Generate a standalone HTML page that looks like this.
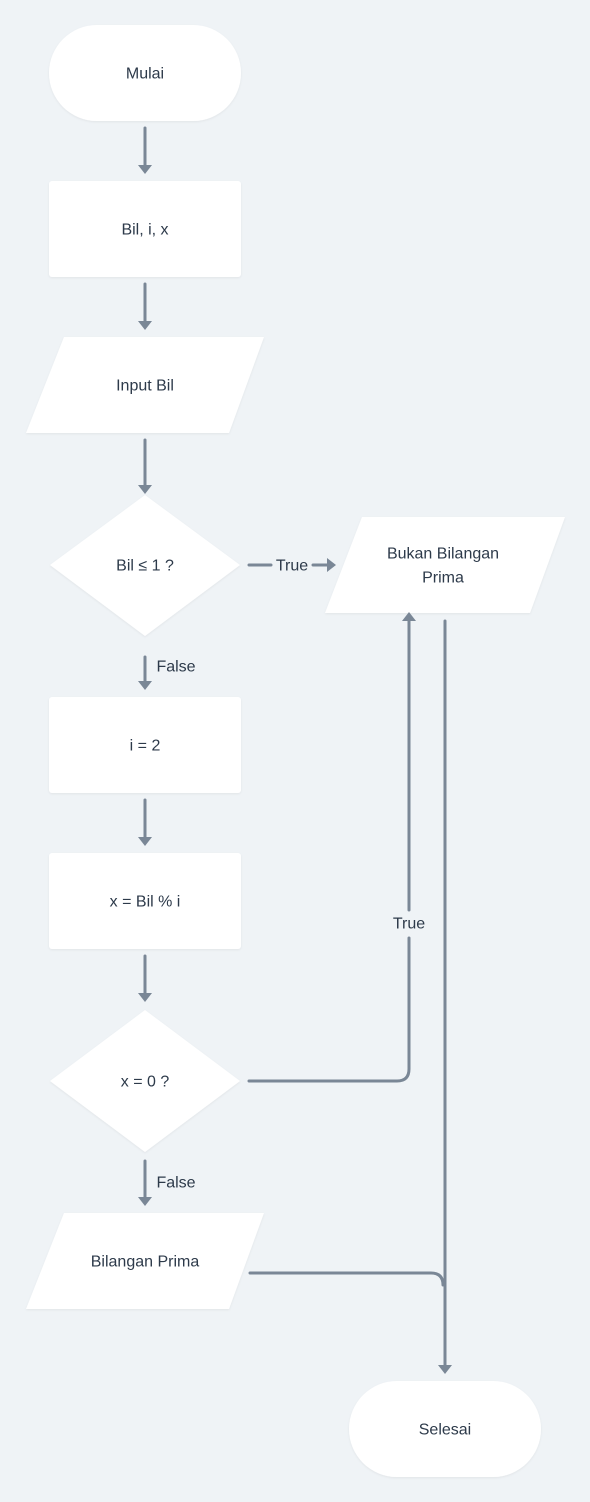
<!DOCTYPE html>
<html><head><meta charset="utf-8"><style>
html,body{margin:0;padding:0;background:#eff3f6}
svg{display:block}
text{font-family:"Liberation Sans",sans-serif;font-size:16px;fill:#2d3a4a;text-anchor:middle;dominant-baseline:central}
</style></head><body>
<svg width="590" height="1502" viewBox="0 0 590 1502">
<defs><filter id="s" x="-10%" y="-10%" width="120%" height="130%"><feDropShadow dx="0" dy="1" stdDeviation="1" flood-color="#000" flood-opacity="0.06"/></filter></defs>
<rect width="590" height="1502" fill="#eff3f6"/>
<g fill="#fff" filter="url(#s)">
<rect x="49" y="25" width="192" height="96" rx="48"/>
<rect x="49" y="181" width="192" height="96" rx="3"/>
<polygon points="64,337 264,337 229,433 26,433"/>
<polygon points="145,495 240,565 145,636 50,565"/>
<polygon points="362,517 565,517 530,613 325,613"/>
<rect x="49" y="697" width="192" height="96" rx="3"/>
<rect x="49" y="853" width="192" height="96" rx="3"/>
<polygon points="145,1010 240,1081 145,1152 50,1081"/>
<polygon points="64,1213 264,1213 229,1309 26,1309"/>
<rect x="349" y="1381" width="192" height="96" rx="48"/>
</g>
<g stroke="#7a8796" stroke-width="3" fill="none" stroke-linecap="round">
<line x1="145" y1="128" x2="145" y2="166"/>
<line x1="145" y1="284" x2="145" y2="322"/>
<line x1="145" y1="440" x2="145" y2="486"/>
<line x1="249" y1="565" x2="271" y2="565"/>
<line x1="313" y1="565" x2="328" y2="565"/>
<line x1="145" y1="657" x2="145" y2="682"/>
<line x1="145" y1="800" x2="145" y2="838"/>
<line x1="145" y1="956" x2="145" y2="994"/>
<line x1="145" y1="1161" x2="145" y2="1198"/>
<path d="M249,1081 H397 Q409,1081 409,1069 V938"/>
<line x1="409" y1="910" x2="409" y2="620"/>
<line x1="445" y1="621" x2="445" y2="1366"/>
<path d="M250,1273 H431 Q443,1273 443,1285"/>
</g>
<g fill="#7a8796">
<polygon points="138,165 152,165 145,174"/>
<polygon points="138,321 152,321 145,330"/>
<polygon points="138,485 152,485 145,494"/>
<polygon points="138,681 152,681 145,690"/>
<polygon points="138,837 152,837 145,846"/>
<polygon points="138,993 152,993 145,1002"/>
<polygon points="138,1197 152,1197 145,1206"/>
<polygon points="327,558 327,572 336,565"/>
<polygon points="402,621 416,621 409,612"/>
<polygon points="438,1365 452,1365 445,1374"/>
</g>
<text x="145" y="74">Mulai</text>
<text x="145" y="230">Bil, i, x</text>
<text x="145" y="386">Input Bil</text>
<text x="145" y="566">Bil ≤ 1 ?</text>
<text x="292" y="566">True</text>
<text x="443" y="554">Bukan Bilangan</text>
<text x="443" y="578">Prima</text>
<text x="176" y="667">False</text>
<text x="145" y="746">i = 2</text>
<text x="145" y="902">x = Bil % i</text>
<text x="145" y="1082">x = 0 ?</text>
<text x="409" y="924">True</text>
<text x="176" y="1183">False</text>
<text x="145" y="1262">Bilangan Prima</text>
<text x="445" y="1430">Selesai</text>
</svg>
</body></html>
